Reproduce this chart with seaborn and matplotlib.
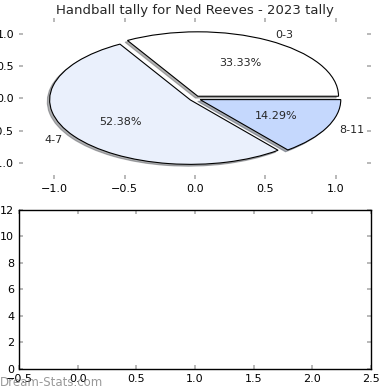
import numpy as np
import pandas as pd
import matplotlib
matplotlib.use('Agg')
import matplotlib.pyplot as plt
import seaborn as sns

# tally data
groups = ['0-3', '4-7', '8-11']
counts = [7, 11, 3]
slice_colors = ['#ffffff', '#eaf0fc', '#c5d8fd']

player = 'Ned Reeves'
season = '2023'

sns.set_theme(style='white')
plt.rcParams['font.family'] = ['DejaVu Sans']
plt.rcParams.update({
    'xtick.direction': 'in', 'ytick.direction': 'in',
    'xtick.top': True, 'ytick.right': True,
    'xtick.bottom': True, 'ytick.left': True,
    'xtick.major.size': 3, 'ytick.major.size': 3,
    'xtick.color': '#b0b0b0', 'ytick.color': '#b0b0b0',
    'xtick.labelcolor': 'black', 'ytick.labelcolor': 'black',
    'xtick.labelsize': 8, 'ytick.labelsize': 8,
})

fig = plt.figure(figsize=(3.9, 3.9), dpi=100)
ax1 = fig.add_axes([0.049, 0.541, 0.902, 0.413])
ax2 = fig.add_axes([0.049, 0.054, 0.902, 0.408])

df = pd.DataFrame({'group': groups, 'count': counts})

ax1.pie(df['count'], labels=df['group'], colors=slice_colors,
        autopct='%.2f%%', explode=[0.04] * len(groups),
        shadow={'ox': -0.012, 'oy': -0.02, 'shade': 0.6},
        startangle=0, frame=True,
        wedgeprops={'edgecolor': 'black', 'linewidth': 0.8},
        textprops={'fontsize': 8})
ax1.set_aspect('auto')
ax1.set_xlim(-1.25, 1.25)
ax1.set_ylim(-1.25, 1.25)
ax1.set_xticks([-1.0, -0.5, 0.0, 0.5, 1.0])
ax1.set_yticks([-1.0, -0.5, 0.0, 0.5, 1.0])
for s in ax1.spines.values():
    s.set_visible(False)
ax1.set_title('Handball tally for %s - %s tally' % (player, season), fontsize=9.5, pad=3)

# lower panel stays empty
sns.barplot(x=[], y=[], ax=ax2)
ax2.set_xlim(-0.5, 2.5)
ax2.set_ylim(0, 12)
ax2.set_xticks([-0.5, 0.0, 0.5, 1.0, 1.5, 2.0, 2.5])
ax2.set_xticklabels(['−0.5', '0.0', '0.5', '1.0', '1.5', '2.0', '2.5'])
ax2.set_yticks(range(0, 13, 2))
for s in ax2.spines.values():
    s.set_visible(True)
    s.set_color('black')
    s.set_linewidth(1)

fig.text(0.0, 0.01, 'Dream-Stats.com', fontsize=8.5, color='gray', alpha=0.8)

fig.savefig('out.png', dpi=100)
